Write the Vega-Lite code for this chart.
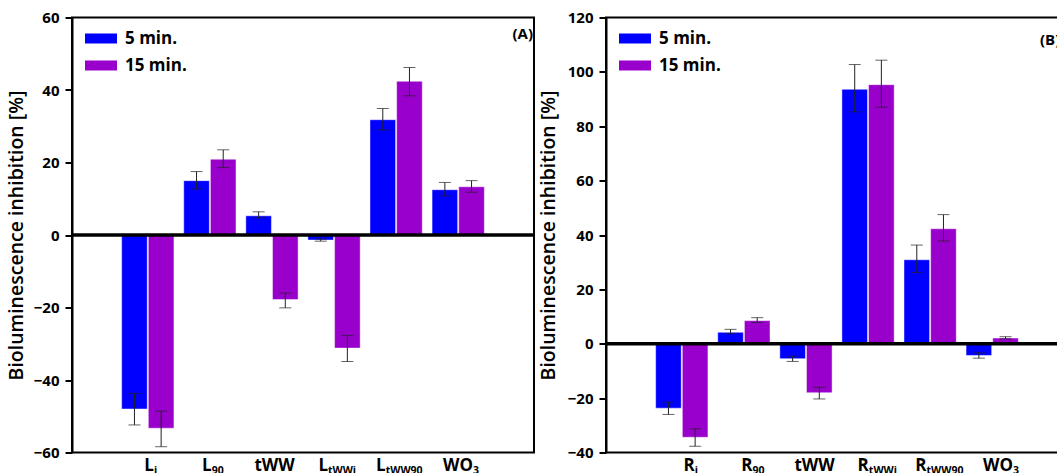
{
  "$schema": "https://vega.github.io/schema/vega-lite/v6.json",
  "usermeta": {"embedOptions": {"actions": false}},
  "padding": {"left": 5, "top": 9.5, "right": 0, "bottom": 0},
  "config": {
    "font": "Open Sans",
    "view": {"stroke": "black", "strokeWidth": 2},
    "axis": {"grid": false}
  },
  "datasets": {
    "barsA": [
      {"group": "L_i", "series": "5 min.", "value": -48.0, "lo": -52.4, "hi": -43.7},
      {"group": "L_i", "series": "15 min.", "value": -53.3, "lo": -58.4, "hi": -48.6},
      {"group": "L_90", "series": "5 min.", "value": 15.0, "lo": 12.7, "hi": 17.5},
      {"group": "L_90", "series": "15 min.", "value": 20.9, "lo": 18.6, "hi": 23.5},
      {"group": "tWW", "series": "5 min.", "value": 5.3, "lo": 4.7, "hi": 6.4},
      {"group": "tWW", "series": "15 min.", "value": -17.8, "lo": -20.1, "hi": -16.0},
      {"group": "L_tWWi", "series": "5 min.", "value": -1.4, "lo": -1.7, "hi": -1.1},
      {"group": "L_tWWi", "series": "15 min.", "value": -31.2, "lo": -34.9, "hi": -27.7},
      {"group": "L_tWW90", "series": "5 min.", "value": 31.8, "lo": 29.0, "hi": 34.9},
      {"group": "L_tWW90", "series": "15 min.", "value": 42.4, "lo": 38.4, "hi": 46.2},
      {"group": "WO3", "series": "5 min.", "value": 12.5, "lo": 10.8, "hi": 14.5},
      {"group": "WO3", "series": "15 min.", "value": 13.3, "lo": 11.8, "hi": 15.0}
    ],
    "labelsA": [
      {"group": "L_i", "main": "L", "sub": "i"},
      {"group": "L_90", "main": "L", "sub": "90"},
      {"group": "tWW", "main": "tWW", "sub": ""},
      {"group": "L_tWWi", "main": "L", "sub": "tWWi"},
      {"group": "L_tWW90", "main": "L", "sub": "tWW90"},
      {"group": "WO3", "main": "WO", "sub": "3"}
    ],
    "barsB": [
      {"group": "R_i", "series": "5 min.", "value": -23.7, "lo": -26.0, "hi": -21.5},
      {"group": "R_i", "series": "15 min.", "value": -34.4, "lo": -37.7, "hi": -31.3},
      {"group": "R_90", "series": "5 min.", "value": 4.2, "lo": 3.7, "hi": 5.3},
      {"group": "R_90", "series": "15 min.", "value": 8.5, "lo": 7.8, "hi": 9.6},
      {"group": "tWW", "series": "5 min.", "value": -5.5, "lo": -6.5, "hi": -4.6},
      {"group": "tWW", "series": "15 min.", "value": -18.0, "lo": -20.3, "hi": -16.0},
      {"group": "R_tWWi", "series": "5 min.", "value": 93.6, "lo": 85.3, "hi": 102.7},
      {"group": "R_tWWi", "series": "15 min.", "value": 95.3, "lo": 87.0, "hi": 104.3},
      {"group": "R_tWW90", "series": "5 min.", "value": 30.9, "lo": 26.2, "hi": 36.3},
      {"group": "R_tWW90", "series": "15 min.", "value": 42.3, "lo": 37.8, "hi": 47.5},
      {"group": "WO3", "series": "5 min.", "value": -4.3, "lo": -5.3, "hi": -3.3},
      {"group": "WO3", "series": "15 min.", "value": 2.1, "lo": 1.8, "hi": 2.6}
    ],
    "labelsB": [
      {"group": "R_i", "main": "R", "sub": "i"},
      {"group": "R_90", "main": "R", "sub": "90"},
      {"group": "tWW", "main": "tWW", "sub": ""},
      {"group": "R_tWWi", "main": "R", "sub": "tWWi"},
      {"group": "R_tWW90", "main": "R", "sub": "tWW90"},
      {"group": "WO3", "main": "WO", "sub": "3"}
    ]
  },
  "spacing": 0,
  "resolve": {
    "scale": {"x": "independent", "y": "independent", "color": "independent", "xOffset": "independent"},
    "axis": {"y": "independent"},
    "legend": {"color": "independent"}
  },
  "hconcat": [
    {
      "width": 462,
      "height": 435,
      "layer": [
        {
          "data": {"name": "barsA"},
          "mark": {"type": "bar", "stroke": "#ffffff", "strokeOpacity": 0.45, "strokeWidth": 1},
          "encoding": {
            "x": {"field": "group", "type": "nominal", "sort": ["L_i", "L_90", "tWW", "L_tWWi", "L_tWW90", "WO3"], "scale": {"paddingInner": 0.158, "paddingOuter": 0.8}, "axis": null},
            "xOffset": {"field": "series", "type": "nominal", "sort": ["5 min.", "15 min."], "scale": {"paddingInner": 0.04}},
            "y": {
              "field": "value", "type": "quantitative",
              "scale": {"domain": [-60, 60], "nice": false, "zero": false},
              "axis": {
                "values": [-60, -50, -40, -30, -20, -10, 0, 10, 20, 30, 40, 50, 60],
                "labelExpr": "datum.value % 20 === 0 ? datum.label : ''",
                "tickSize": {"condition": {"test": "datum.value % 20 !== 0", "value": 4}, "value": 7},
                "tickWidth": 2, "tickColor": "black",
                "domainColor": "black", "domainWidth": 2,
                "labelFont": "Open Sans", "labelFontSize": 15, "labelFontWeight": "bold", "labelColor": "black",
                "labelPadding": 6, "labelOverlap": false, "labelFlush": false,
                "title": "Bioluminescence inhibition [%]",
                "titleFont": "Open Sans", "titleFontSize": 19.5, "titleFontWeight": 600, "titleColor": "black",
                "titlePadding": 7
              }
            },
            "color": {
              "field": "series", "type": "nominal",
              "scale": {"domain": ["5 min.", "15 min."], "range": ["#0000ff", "#9900cc"]},
              "legend": {
                "orient": "none", "legendX": 19, "legendY": 11, "title": null, "padding": 0,
                "symbolType": "M-1.6,-0.5H1.6V0.5H-1.6Z", "symbolSize": 400, "symbolStrokeWidth": 0, "symbolOpacity": 1,
                "labelFont": "Open Sans", "labelFontSize": 17, "labelFontWeight": "bold", "labelColor": "black",
                "labelOffset": 14, "rowPadding": 9
              }
            }
          }
        },
        {
          "data": {"values": [{}]},
          "mark": {"type": "rule", "color": "black", "strokeWidth": 3.5},
          "encoding": {"y": {"datum": 0, "type": "quantitative"}}
        },
        {
          "data": {"name": "barsA"},
          "mark": {"type": "rule", "color": "#222222", "strokeWidth": 1},
          "encoding": {
            "x": {"field": "group", "type": "nominal", "sort": ["L_i", "L_90", "tWW", "L_tWWi", "L_tWW90", "WO3"]},
            "xOffset": {"field": "series", "type": "nominal", "sort": ["5 min.", "15 min."]},
            "y": {"field": "lo", "type": "quantitative"},
            "y2": {"field": "hi"}
          }
        },
        {
          "data": {"name": "barsA"},
          "mark": {"type": "tick", "color": "#222222", "thickness": 1, "size": 12, "orient": "horizontal"},
          "encoding": {
            "x": {"field": "group", "type": "nominal", "sort": ["L_i", "L_90", "tWW", "L_tWWi", "L_tWW90", "WO3"]},
            "xOffset": {"field": "series", "type": "nominal", "sort": ["5 min.", "15 min."]},
            "y": {"field": "hi", "type": "quantitative"}
          }
        },
        {
          "data": {"name": "barsA"},
          "mark": {"type": "tick", "color": "#222222", "thickness": 1, "size": 12, "orient": "horizontal"},
          "encoding": {
            "x": {"field": "group", "type": "nominal", "sort": ["L_i", "L_90", "tWW", "L_tWWi", "L_tWW90", "WO3"]},
            "xOffset": {"field": "series", "type": "nominal", "sort": ["5 min.", "15 min."]},
            "y": {"field": "lo", "type": "quantitative"}
          }
        },
        {
          "data": {"name": "labelsA"},
          "mark": {"type": "text", "font": "Open Sans", "fontSize": 17, "fontWeight": "bold", "color": "black", "align": "right", "baseline": "alphabetic", "dy": 18,
            "dx": {"expr": "3 + (datum.main==='L'?9.5:datum.main==='R'?11.2:datum.main==='tWW'?39.6:29.7)/2 - (datum.sub==='i'?3.2:datum.sub==='90'?12:datum.sub==='3'?6:datum.sub==='tWWi'?27.6:datum.sub==='tWW90'?36.4:0)/2"}},
          "encoding": {
            "x": {"field": "group", "type": "nominal", "sort": ["L_i", "L_90", "tWW", "L_tWWi", "L_tWW90", "WO3"]},
            "y": {"datum": -60, "type": "quantitative"},
            "text": {"field": "main"}
          }
        },
        {
          "data": {"name": "labelsA"},
          "mark": {"type": "text", "font": "Open Sans", "fontSize": 10.5, "fontWeight": "bold", "color": "black", "align": "left", "baseline": "alphabetic", "dy": 21.5,
            "dx": {"expr": "3 + (datum.main==='L'?9.5:datum.main==='R'?11.2:datum.main==='tWW'?39.6:29.7)/2 - (datum.sub==='i'?3.2:datum.sub==='90'?12:datum.sub==='3'?6:datum.sub==='tWWi'?27.6:datum.sub==='tWW90'?36.4:0)/2"}},
          "encoding": {
            "x": {"field": "group", "type": "nominal", "sort": ["L_i", "L_90", "tWW", "L_tWWi", "L_tWW90", "WO3"]},
            "y": {"datum": -60, "type": "quantitative"},
            "text": {"field": "sub"}
          }
        },
        {
          "data": {"values": [{"t": "(A)"}]},
          "mark": {"type": "text", "font": "Open Sans", "fontSize": 15, "fontWeight": "bold", "color": "black", "align": "right", "baseline": "alphabetic", "dx": -1, "dy": 21.5},
          "encoding": {
            "x": {"value": "width"},
            "y": {"datum": 60, "type": "quantitative"},
            "text": {"field": "t"}
          }
        }
      ]
    },
    {
      "width": 462,
      "height": 435,
      "layer": [
        {
          "data": {"name": "barsB"},
          "mark": {"type": "bar", "stroke": "#ffffff", "strokeOpacity": 0.45, "strokeWidth": 1},
          "encoding": {
            "x": {"field": "group", "type": "nominal", "sort": ["R_i", "R_90", "tWW", "R_tWWi", "R_tWW90", "WO3"], "scale": {"paddingInner": 0.158, "paddingOuter": 0.8}, "axis": null},
            "xOffset": {"field": "series", "type": "nominal", "sort": ["5 min.", "15 min."], "scale": {"paddingInner": 0.04}},
            "y": {
              "field": "value", "type": "quantitative",
              "scale": {"domain": [-40, 120], "nice": false, "zero": false},
              "axis": {
                "values": [-40, -30, -20, -10, 0, 10, 20, 30, 40, 50, 60, 70, 80, 90, 100, 110, 120],
                "labelExpr": "datum.value % 20 === 0 ? datum.label : ''",
                "tickSize": {"condition": {"test": "datum.value % 20 !== 0", "value": 4}, "value": 7},
                "tickWidth": 2, "tickColor": "black",
                "domainColor": "black", "domainWidth": 2,
                "labelFont": "Open Sans", "labelFontSize": 15, "labelFontWeight": "bold", "labelColor": "black",
                "labelPadding": 6, "labelOverlap": false, "labelFlush": false,
                "title": "Bioluminescence inhibition [%]",
                "titleFont": "Open Sans", "titleFontSize": 19.5, "titleFontWeight": 600, "titleColor": "black",
                "titlePadding": 8.5
              }
            },
            "color": {
              "field": "series", "type": "nominal",
              "scale": {"domain": ["5 min.", "15 min."], "range": ["#0000ff", "#9900cc"]},
              "legend": {
                "orient": "none", "legendX": 19, "legendY": 11, "title": null, "padding": 0,
                "symbolType": "M-1.6,-0.5H1.6V0.5H-1.6Z", "symbolSize": 400, "symbolStrokeWidth": 0, "symbolOpacity": 1,
                "labelFont": "Open Sans", "labelFontSize": 17, "labelFontWeight": "bold", "labelColor": "black",
                "labelOffset": 14, "rowPadding": 9
              }
            }
          }
        },
        {
          "data": {"values": [{}]},
          "mark": {"type": "rule", "color": "black", "strokeWidth": 3.5},
          "encoding": {"y": {"datum": 0, "type": "quantitative"}}
        },
        {
          "data": {"name": "barsB"},
          "mark": {"type": "rule", "color": "#222222", "strokeWidth": 1},
          "encoding": {
            "x": {"field": "group", "type": "nominal", "sort": ["R_i", "R_90", "tWW", "R_tWWi", "R_tWW90", "WO3"]},
            "xOffset": {"field": "series", "type": "nominal", "sort": ["5 min.", "15 min."]},
            "y": {"field": "lo", "type": "quantitative"},
            "y2": {"field": "hi"}
          }
        },
        {
          "data": {"name": "barsB"},
          "mark": {"type": "tick", "color": "#222222", "thickness": 1, "size": 12, "orient": "horizontal"},
          "encoding": {
            "x": {"field": "group", "type": "nominal", "sort": ["R_i", "R_90", "tWW", "R_tWWi", "R_tWW90", "WO3"]},
            "xOffset": {"field": "series", "type": "nominal", "sort": ["5 min.", "15 min."]},
            "y": {"field": "hi", "type": "quantitative"}
          }
        },
        {
          "data": {"name": "barsB"},
          "mark": {"type": "tick", "color": "#222222", "thickness": 1, "size": 12, "orient": "horizontal"},
          "encoding": {
            "x": {"field": "group", "type": "nominal", "sort": ["R_i", "R_90", "tWW", "R_tWWi", "R_tWW90", "WO3"]},
            "xOffset": {"field": "series", "type": "nominal", "sort": ["5 min.", "15 min."]},
            "y": {"field": "lo", "type": "quantitative"}
          }
        },
        {
          "data": {"name": "labelsB"},
          "mark": {"type": "text", "font": "Open Sans", "fontSize": 17, "fontWeight": "bold", "color": "black", "align": "right", "baseline": "alphabetic", "dy": 18,
            "dx": {"expr": "9 + (datum.main==='L'?9.5:datum.main==='R'?11.2:datum.main==='tWW'?39.6:29.7)/2 - (datum.sub==='i'?3.2:datum.sub==='90'?12:datum.sub==='3'?6:datum.sub==='tWWi'?27.6:datum.sub==='tWW90'?36.4:0)/2"}},
          "encoding": {
            "x": {"field": "group", "type": "nominal", "sort": ["R_i", "R_90", "tWW", "R_tWWi", "R_tWW90", "WO3"]},
            "y": {"datum": -40, "type": "quantitative"},
            "text": {"field": "main"}
          }
        },
        {
          "data": {"name": "labelsB"},
          "mark": {"type": "text", "font": "Open Sans", "fontSize": 10.5, "fontWeight": "bold", "color": "black", "align": "left", "baseline": "alphabetic", "dy": 21.5,
            "dx": {"expr": "9 + (datum.main==='L'?9.5:datum.main==='R'?11.2:datum.main==='tWW'?39.6:29.7)/2 - (datum.sub==='i'?3.2:datum.sub==='90'?12:datum.sub==='3'?6:datum.sub==='tWWi'?27.6:datum.sub==='tWW90'?36.4:0)/2"}},
          "encoding": {
            "x": {"field": "group", "type": "nominal", "sort": ["R_i", "R_90", "tWW", "R_tWWi", "R_tWW90", "WO3"]},
            "y": {"datum": -40, "type": "quantitative"},
            "text": {"field": "sub"}
          }
        },
        {
          "data": {"values": [{"t": "(B)"}]},
          "mark": {"type": "text", "font": "Open Sans", "fontSize": 15, "fontWeight": "bold", "color": "black", "align": "left", "baseline": "alphabetic", "dx": -28, "dy": 27},
          "encoding": {
            "x": {"value": "width"},
            "y": {"datum": 120, "type": "quantitative"},
            "text": {"field": "t"}
          }
        }
      ]
    }
  ]
}
